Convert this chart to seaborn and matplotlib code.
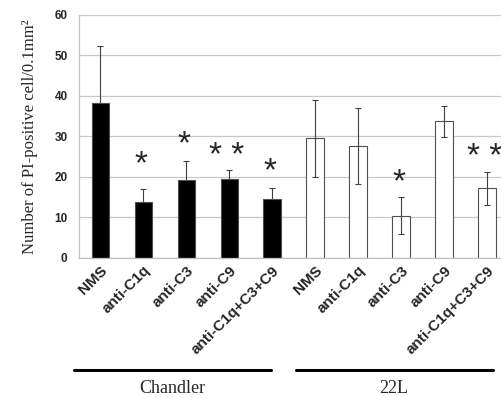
import matplotlib
matplotlib.use("Agg")
import matplotlib.pyplot as plt
import pandas as pd
import seaborn as sns

# values
groups = ["Chandler"] * 5 + ["22L"] * 5
treatments = ["NMS", "anti-C1q", "anti-C3", "anti-C9", "anti-C1q+C3+C9"] * 2
means = [38.2, 13.8, 19.1, 19.5, 14.5, 29.5, 27.5, 10.4, 33.7, 17.1]
errors = [14.0, 3.1, 4.7, 2.1, 2.6, 9.5, 9.4, 4.5, 3.8, 4.0]
# significance marks: (bar index, text, y of the mark centre)
stars = [(1, "*", 24.6), (2, "*", 29.6), (3, "* *", 26.6), (4, "*", 22.9),
         (7, "*", 20.0), (9, "* *", 26.3)]

df = pd.DataFrame({
    "key": [f"{g} {t}" for g, t in zip(groups, treatments)],
    "group": groups,
    "treatment": treatments,
    "value": means,
    "err": errors,
})

sns.set_style("white")
fig = plt.figure(figsize=(5.01, 3.98), dpi=100)
ax = fig.add_axes([0.157, 0.3525, 0.858, 0.6105])

sns.barplot(data=df, x="key", y="value", hue="group", order=df["key"],
            palette={"Chandler": "black", "22L": "white"}, dodge=False,
            width=0.4, edgecolor="#505050", linewidth=0.8, errorbar=None,
            legend=False, ax=ax, zorder=2)

# error bars: behind the black bars (lower half hidden), over the white ones
for name, z in [("Chandler", 1.5), ("22L", 3)]:
    sub = df[df["group"] == name]
    ax.errorbar(sub.index, sub["value"], yerr=sub["err"], fmt="none",
                ecolor="#404040", elinewidth=0.8, capsize=2, capthick=0.8,
                zorder=z)

ax.set_ylim(0, 60)
ax.set_xlim(-0.5, 9.5)
ax.set_yticks(range(0, 61, 10))
ax.yaxis.grid(True, color="#c8c8c8", linewidth=0.9, zorder=0)
ax.set_axisbelow(True)
for side in ["top", "right"]:
    ax.spines[side].set_visible(False)
for side in ["left", "bottom"]:
    ax.spines[side].set_color("#c0c0c0")
    ax.spines[side].set_linewidth(0.9)

ax.tick_params(axis="y", length=3, color="#c0c0c0", labelsize=8.5, pad=5)
for lab in ax.get_yticklabels():
    lab.set_fontweight("bold")
    lab.set_family("Liberation Sans")

# category boundaries as tick marks, labels at bar centres
ax.set_xticks([i - 0.5 for i in range(11)], minor=True)
ax.tick_params(axis="x", which="minor", length=4, color="#c0c0c0", direction="out")
ax.tick_params(axis="x", which="major", length=0, pad=4)
ax.set_xticks(range(len(treatments)))
ax.set_xticklabels(treatments, rotation=45, ha="right", rotation_mode="anchor",
                   fontsize=11, fontweight="bold", family="Liberation Sans")
ax.set_xlabel("")
ax.set_ylabel("Number of PI-positive cell/0.1mm²", family="Liberation Serif",
              fontsize=12, labelpad=12)

for i, txt, y in stars:
    ax.text(i - 0.05, y - 3.7, txt, ha="center", va="baseline", fontsize=24,
            family="Liberation Sans", zorder=4, clip_on=False)

# group underlines and names
trans = ax.get_xaxis_transform()
for x0, x1, name in [(-0.61, 3.97, "Chandler"), (4.55, 9.13, "22L")]:
    ax.plot([x0, x1], [-0.462, -0.462], color="black", linewidth=2.2,
            transform=trans, clip_on=False)
    ax.text((x0 + x1) / 2, -0.54, name, transform=trans, ha="center",
            va="center", fontsize=13, family="Liberation Serif")

fig.savefig("out.png", dpi=100)
